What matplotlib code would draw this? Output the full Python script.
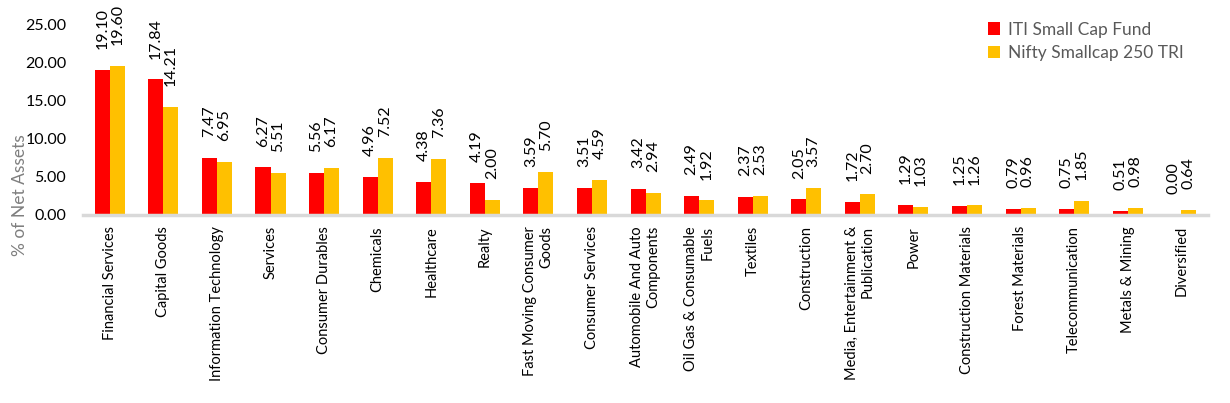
import matplotlib
matplotlib.use("Agg")
import matplotlib.pyplot as plt
import numpy as np

categories = ["Financial Services", "Capital Goods", "Information Technology", "Services",
              "Consumer Durables", "Chemicals", "Healthcare", "Realty",
              "Fast Moving Consumer\nGoods", "Consumer Services",
              "Automobile And Auto\nComponents", "Oil Gas & Consumable\nFuels", "Textiles",
              "Construction", "Media, Entertainment &\nPublication", "Power",
              "Construction Materials", "Forest Materials", "Telecommunication",
              "Metals & Mining", "Diversified"]
fund = [19.10, 17.84, 7.47, 6.27, 5.56, 4.96, 4.38, 4.19, 3.59, 3.51, 3.42, 2.49, 2.37,
        2.05, 1.72, 1.29, 1.25, 0.79, 0.75, 0.51, 0.00]
index = [19.60, 14.21, 6.95, 5.51, 6.17, 7.52, 7.36, 2.00, 5.70, 4.59, 2.94, 1.92, 2.53,
         3.57, 2.70, 1.03, 1.26, 0.96, 1.85, 0.98, 0.64]
series_names = ["ITI Small Cap Fund", "Nifty Smallcap 250 TRI"]
yticks = [0, 5, 10, 15, 20, 25]

plt.rcParams['font.family'] = ['Lato', 'DejaVu Sans']

W, H = 1230, 403
fig = plt.figure(figsize=(W / 100, H / 100), dpi=100)
ax = fig.add_axes([83 / W, (H - 215) / H, (1208 - 83) / W, (215 - 25) / H])

n = len(categories)
x = np.arange(n)
w = 0.28
red, yellow = "#FF0000", "#FFC000"
ax.bar(x - w / 2, fund, w, color=red, label=series_names[0], zorder=2)
ax.bar(x + w / 2, index, w, color=yellow, label=series_names[1], zorder=2)

for xs, vals in ((x - w / 2, fund), (x + w / 2, index)):
    for xi, v in zip(xs, vals):
        ax.annotate(f"{v:.2f}", (xi, v), xytext=(0, 15), textcoords="offset points",
                    rotation=90, ha="center", va="bottom", fontsize=11.5, color="black",
                    annotation_clip=False)

ax.set_xlim(-0.5, n - 0.5)
ax.set_ylim(0, 25)
ax.set_yticks(yticks)
ax.set_yticklabels([f"{t:.2f}" for t in yticks], fontsize=11.5, color="#000000")
ax.set_xticks(x)
ax.set_xticklabels(categories, rotation=90, fontsize=10.5, ha="center", va="top",
                   multialignment="right")
ax.tick_params(axis="both", length=0)
ax.tick_params(axis="x", pad=8)
ax.tick_params(axis="y", pad=12)
for s in ("top", "right", "left"):
    ax.spines[s].set_visible(False)
ax.spines["bottom"].set_color("#D9D9D9")
ax.spines["bottom"].set_linewidth(2.5)

fig.text(20 / W, 1 - 195 / H, "% of Net Assets", rotation=90, ha="center", va="center",
         fontsize=12.5, color="#7F7F7F")

leg = ax.legend(loc="upper left", bbox_to_anchor=(972 / W, 1 - 6 / H),
                bbox_transform=fig.transFigure, frameon=False, fontsize=12.5,
                handlelength=0.7, handleheight=0.7, handletextpad=0.5, labelspacing=0.45)
for t in leg.get_texts():
    t.set_color("#595959")

fig.savefig("out.png", dpi=100)
